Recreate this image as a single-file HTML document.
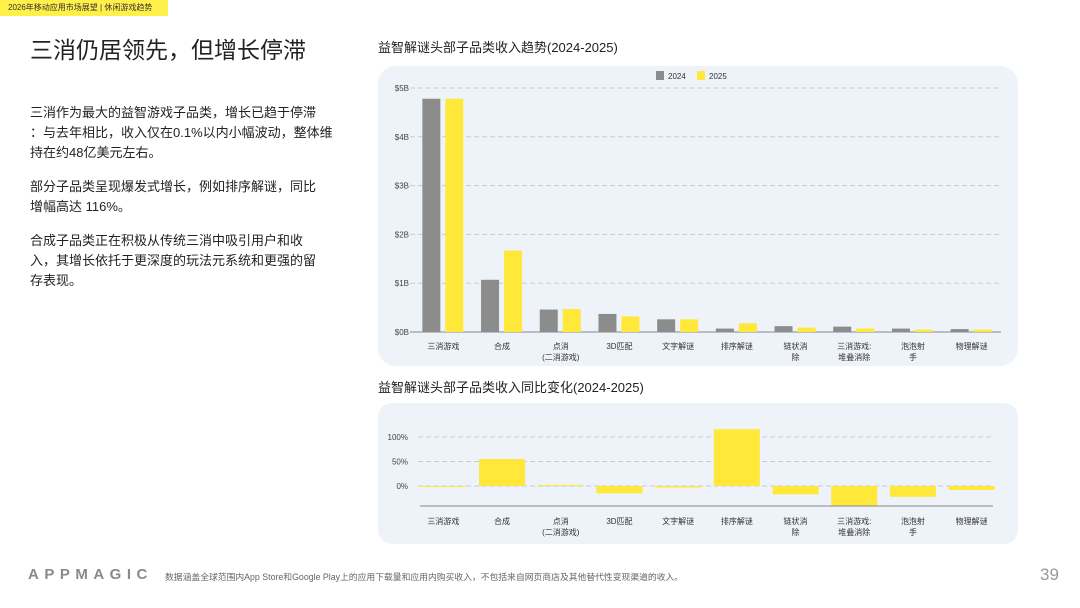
<!DOCTYPE html>
<html><head><meta charset="utf-8">
<style>
body{margin:0;width:1080px;height:608px;background:#fff;position:relative;overflow:hidden;font-family:"Liberation Sans","Noto Sans CJK SC",sans-serif;color:#222}
.abs{position:absolute}
</style></head><body>
<div class="abs" style="left:0;top:0;width:168px;height:16px;background:#fff04a;font-size:8px;line-height:16px;padding-left:8px;box-sizing:border-box;color:#333;white-space:nowrap">2026年移动应用市场展望 | 休闲游戏趋势</div>
<div class="abs" style="left:30px;top:31px;font-size:23px;color:#222;white-space:nowrap">三消仍居领先，但增长停滞</div>
<div class="abs" style="left:30px;top:103px;font-size:13px;line-height:20px;color:#222;white-space:nowrap">
<p style="margin:0 0 14px">三消作为最大的益智游戏子品类，增长已趋于停滞<br>：与去年相比，收入仅在0.1%以内小幅波动，整体维<br>持在约48亿美元左右。</p>
<p style="margin:0 0 14px">部分子品类呈现爆发式增长，例如排序解谜，同比<br>增幅高达 116%。</p>
<p style="margin:0">合成子品类正在积极从传统三消中吸引用户和收<br>入，其增长依托于更深度的玩法元系统和更强的留<br>存表现。</p>
</div>
<div class="abs" style="left:378px;top:37px;font-size:13px;white-space:nowrap">益智解谜头部子品类收入趋势(2024-2025)</div>
<div class="abs" style="left:378px;top:377px;font-size:13px;white-space:nowrap">益智解谜头部子品类收入同比变化(2024-2025)</div>
<svg class="abs" style="left:0;top:0" width="1080" height="608" id="svg">
<rect x="378" y="66" width="640" height="300" rx="18" fill="#eef3f9"/>
<rect x="378" y="403" width="640" height="141" rx="14" fill="#eef3f9"/>
<g id="c1"></g><g id="c2"></g>
</svg>
<div class="abs" style="left:28px;top:566px;font-size:15px;font-weight:bold;letter-spacing:5.5px;color:#8a8a8a">APPMAGIC</div>
<div class="abs" style="left:165px;top:570px;font-size:8.8px;color:#666;white-space:nowrap">数据涵盖全球范围内App Store和Google Play上的应用下载量和应用内购买收入，不包括来自网页商店及其他替代性变现渠道的收入。</div>
<div class="abs" style="left:1040px;top:565px;font-size:17px;color:#999">39</div>
<script>
const categories=["三消游戏","合成","点消\n(二消游戏)","3D匹配","文字解谜","排序解谜","链状消\n除","三消游戏:\n堆叠消除","泡泡射\n手","物理解谜"];
const rev2024=[4.78,1.07,0.46,0.37,0.26,0.07,0.12,0.11,0.07,0.06];
const rev2025=[4.78,1.67,0.47,0.32,0.26,0.18,0.09,0.07,0.05,0.05];
const yoy=[0,55,2,-15,-3,116,-17,-40,-22,-8];
const ticks1=[0,1,2,3,4,5];
const tickLabels1=["$0B","$1B","$2B","$3B","$4B","$5B"];
const ticks2=[0,50,100];
const tickLabels2=["0%","50%","100%"];
const NS="http://www.w3.org/2000/svg";
function mk(p,t,a,txt){const e=document.createElementNS(NS,t);for(const k in a)e.setAttribute(k,a[k]);if(txt!=null)e.textContent=txt;p.appendChild(e);return e;}
const c1=document.getElementById('c1'),c2=document.getElementById('c2');
const L=414,R=1001,bw=(R-L)/categories.length;
const y1=v=>332-v*48.8;
const y2=v=>486-v*0.49;
ticks1.forEach((t,i)=>{
 const g=mk(c1,'line',{x1:L-4,x2:R,y1:y1(t),y2:y1(t),stroke:t?'#c8ccd2':'#888','stroke-dasharray':t?'5,3':'',"stroke-width":1});
 
 const l=mk(c1,'text',{x:L-5,y:y1(t)+3,'text-anchor':'end','font-size':8,fill:'#444'},tickLabels1[i]);
 
});
function labels(p,y){categories.forEach((c,i)=>{c.split('\n').forEach((s,j)=>{
 const t=mk(p,'text',{x:L+bw*(i+.5),y:y+j*11,'text-anchor':'middle','font-size':8,fill:'#333'},s);
 });});}
categories.forEach((c,i)=>{
 const cx=L+bw*(i+.5);
 const a=mk(c1,'rect',{x:cx-21,y:y1(rev2024[i]),width:18,height:332-y1(rev2024[i]),fill:'#8c8c8c'});
 
 const b=mk(c1,'rect',{x:cx+2,y:y1(rev2025[i]),width:18,height:332-y1(rev2025[i]),fill:'#ffe83a'});
 
});
labels(c1,349);
const lg1=mk(c1,'rect',{x:656,y:71,width:8,height:9,fill:'#8c8c8c'});
const lt1=mk(c1,'text',{x:668,y:79,'font-size':8,fill:'#333'},'2024');
const lg2=mk(c1,'rect',{x:697,y:71,width:8,height:9,fill:'#ffe83a'});
const lt2=mk(c1,'text',{x:709,y:79,'font-size':8,fill:'#333'},'2025');
ticks2.forEach((t,i)=>{
 const g=mk(c2,'line',{x1:418,x2:993,y1:y2(t),y2:y2(t),stroke:'#c8ccd2','stroke-dasharray':'5,3'});
 
 const l=mk(c2,'text',{x:408,y:y2(t)+3,'text-anchor':'end','font-size':8,fill:'#444'},tickLabels2[i]);
 
});
yoy.forEach((v,i)=>{
 const cx=L+bw*(i+.5);
 const r=mk(c2,'rect',{x:cx-23,y:Math.min(y2(v),y2(0)),width:46,height:Math.max(1,Math.abs(y2(v)-y2(0))),fill:'#ffe83a'});
 
});
const ax=mk(c2,'line',{x1:420,x2:993,y1:506,y2:506,stroke:'#888'});
labels(c2,524);
</script>
</body></html>
